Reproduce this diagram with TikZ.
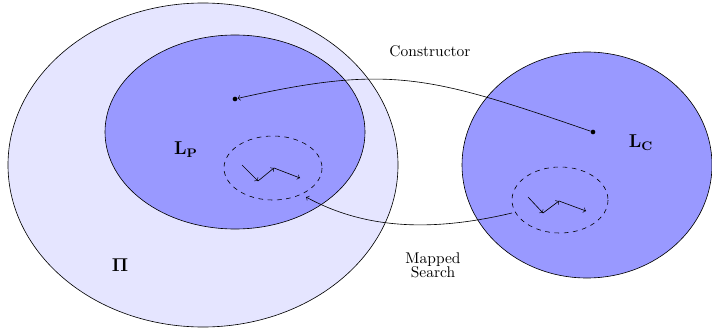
\documentclass[tikz,border=0pt]{standalone}
\usetikzlibrary{calc}
\begin{document}
\begin{tikzpicture}[x=0.0227cm,y=-0.0227cm,every text node part/.style={align=center}]
		\tikzstyle{space}=[draw,fill=blue!10]
		\tikzstyle{lang}=[draw,fill=blue!40]
		\tikzstyle{search}=[draw,dashed]
		\tikzstyle{dot}=[circle,fill,inner sep=0pt,minimum size=3pt]
		\tikzstyle{setname}=[font=\large]

		\useasboundingbox (0,0) rectangle (712,331);

		% Pi and the two languages
		\draw[space] (203,165) ellipse [x radius=195, y radius=162];
		\draw[lang] (235,132) ellipse [x radius=130, y radius=97];
		\draw[lang] (587,165) ellipse [x radius=125, y radius=113];

		% search regions
		\draw[search] (273,168) ellipse [x radius=49, y radius=32];
		\draw[search] (560,200) ellipse [x radius=48, y radius=33];

		% labels
		\node[setname] (Pi) at (120,265) {$\mathbf{\Pi}$};
		\node[setname] (LP) at (186,150) {$\mathbf{L_P}$};
		\node[setname] (LC) at (641,143) {$\mathbf{L_C}$};
		\node (cons) at (430,51) {Constructor};
		\node (map) at (433,265) {Mapped\\[-3pt]Search};

		% points
		\node[dot] (p) at (235,99) {};
		\node[dot] (c) at (593,132) {};
		\coordinate (ms) at (512,213);
		\coordinate (me) at (306,197);

		% search steps
		\foreach \name/\x/\y in {a1/242/165, a2/258/181, a3/274/168, a4/300/178,
				b1/528/197, b2/543/213, b3/559/201, b4/586/211}
			\coordinate (\name) at (\x,\y);
		\foreach \s in {a, b}
		{
			\draw [->] (\s1) -- (\s2);
			\draw [->] (\s2) -- (\s3);
			\draw [->] (\s3) -- (\s4);
		}

		% mappings
		\draw [->] (c) .. controls (430,76) and (390,64) .. (p);
		\draw [->] (ms) .. controls (440,230) and (370,232) .. (me);

	\end{tikzpicture}
\end{document}
